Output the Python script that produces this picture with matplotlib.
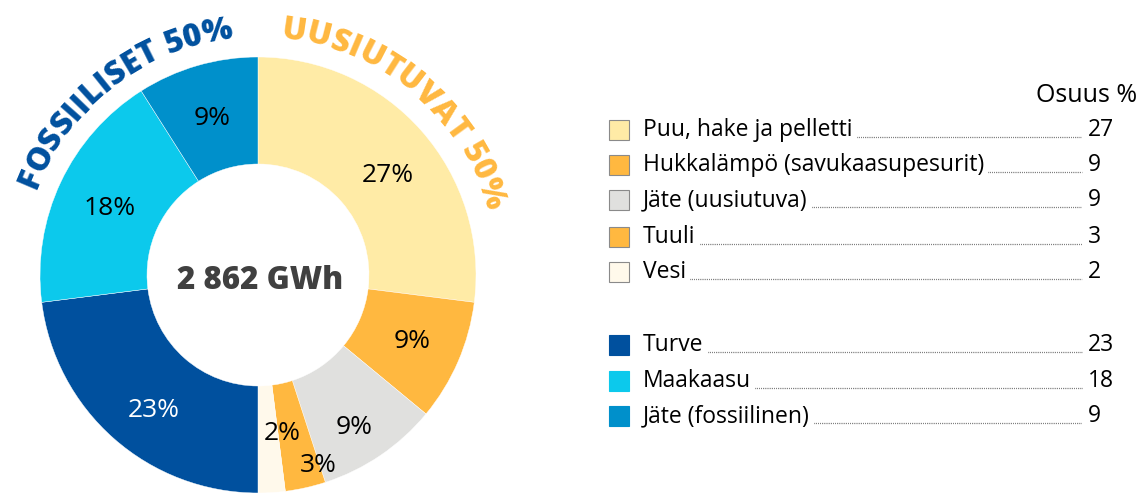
import numpy as np
import matplotlib
matplotlib.use("Agg")
from matplotlib import pyplot as plt
from matplotlib.font_manager import FontProperties

plt.rcParams['font.family'] = ['Open Sans', 'DejaVu Sans']

# Energialähteet ja osuudet (%)
labels = ["Puu, hake ja pelletti", "Hukkalämpö (savukaasupesurit)", "Jäte (uusiutuva)",
          "Tuuli", "Vesi", "Turve", "Maakaasu", "Jäte (fossiilinen)"]
shares = [27, 9, 9, 3, 2, 23, 18, 9]
colors = ["#FFEBA6", "#FFB840", "#E0E0DE", "#FFB840", "#FFF9EB",
          "#00509E", "#0CC9EC", "#0090CB"]
label_colors = ["black"] * 5 + ["white", "black", "black"]
total_text = "2 862 GWh"
group_texts = ["FOSSIILISET 50%", "UUSIUTUVAT 50%"]

W, H = 1143, 495
fig = plt.figure(figsize=(W / 100, H / 100), dpi=100)
ax = fig.add_axes([0, 0, 1, 1])

cx, cy, R, ring = 258, 220, 218, 107
wedges, _ = ax.pie(shares, colors=colors, startangle=90, counterclock=False,
                   center=(cx, cy), radius=R,
                   wedgeprops=dict(width=ring, edgecolor="white", linewidth=0.3))

# prosenttiluvut renkaan sisään
r_off = [0, 5, 17, 37, -3, 8, 0, 0]
a_off = [-4, 0, -2, 5, 5, 4, 1, 0]
for w, v, c, dr, da in zip(wedges, shares, label_colors, r_off, a_off):
    a = np.deg2rad((w.theta1 + w.theta2) / 2 + da)
    r = 163 + dr
    ax.text(cx + r * np.cos(a), cy + r * np.sin(a), f"{v}%", ha="center", va="center",
            fontsize=19, color=c)

ax.text(cx + 2, cy - 6, total_text, ha="center", va="center", fontsize=22.5,
        fontweight="heavy", color="#404040")

ax.set_xlim(0, W)
ax.set_ylim(0, H)
ax.set_aspect("equal")
ax.axis("off")

fig.canvas.draw()
renderer = fig.canvas.get_renderer()


def arc_text(s, mid_deg, radius, color, size, track=1.0):
    fp = FontProperties(family="Open Sans", weight="heavy", size=size)
    widths = [renderer.get_text_width_height_descent(ch, fp, ismath=False)[0] * track
              for ch in s]
    total = sum(widths)
    ang = np.deg2rad(mid_deg) + total / 2 / radius
    for ch, wd in zip(s, widths):
        a = ang - wd / 2 / radius
        ax.text(cx + radius * np.cos(a), cy + radius * np.sin(a), ch,
                rotation=np.rad2deg(a) - 90, rotation_mode="anchor",
                ha="center", va="baseline", fontproperties=fp, color=color)
        ang -= wd / radius


arc_text(group_texts[0], 127.5, 238, "#00509E", 23, 1.0)
arc_text(group_texts[1], 50, 238, "#FFB840", 23, 1.0)

# selite
ax.text(1137, H - 95, "Osuus %", ha="right", va="center", fontsize=18, color="black")
rows_y = [130, 165, 200, 237, 272, 345, 381, 416]
for lab, v, col, yy in zip(labels, shares, colors, rows_y):
    y = H - yy
    ax.add_patch(plt.Rectangle((609, y - 10), 20, 20, facecolor=col,
                               edgecolor="#8a8a8a" if yy < 300 else col, linewidth=0.8))
    t = ax.text(643, y, lab, ha="left", va="center", fontsize=16.5, color="black")
    ax.text(1088, y, str(v), ha="left", va="center", fontsize=16.5, color="black")
    bb = t.get_window_extent(renderer)
    ax.plot([bb.x1 + 4, 1082], [y - 7, y - 7], color="#333333", linewidth=0.9,
            linestyle=(0, (0.5, 1.0)))

fig.savefig("out.png", dpi=100)
